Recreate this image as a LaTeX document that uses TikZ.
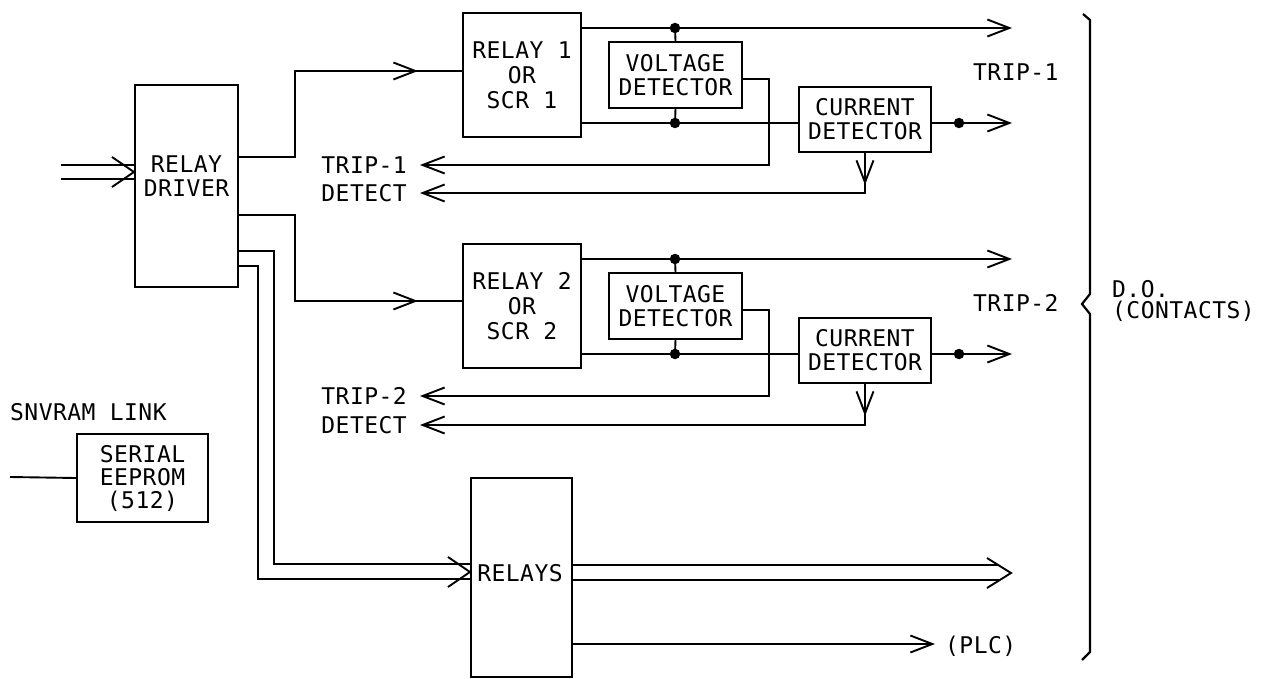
\documentclass[tikz,border=0pt]{standalone}
\usepackage{fontspec}
\newfontfamily\plotfont[LetterSpace=2]{DejaVu Sans Mono}
\usetikzlibrary{arrows.meta}
\begin{document}
\begin{tikzpicture}[x=1pt,y=-1pt,
  lbl/.style={inner sep=0pt, align=center, font=\plotfont\fontsize{23}{24}\selectfont},
  box/.style={draw, line width=2.1pt, inner sep=0pt, lbl},
  wire/.style={line width=1.9pt},
  arr/.style={wire, -{Straight Barb[length=22pt, width=17pt, line width=1.9pt]}},
  dot/.style={circle, fill, draw=none, inner sep=0pt, minimum size=10.5pt},
  rbox/.style={box, minimum width=118pt, minimum height=124pt, font=\plotfont\fontsize{23}{25}\selectfont},
  vbox/.style={box, minimum width=133pt, minimum height=66pt},
  cbox/.style={box, minimum width=132pt, minimum height=65pt}]
\useasboundingbox (0,0) rectangle (1263,679);

% ---------------- boxes
\node[box, minimum width=103pt, minimum height=202pt] (rd) at (186.5,186) {};
\node[lbl] (rdt) at (186.5,176.5) {RELAY\\DRIVER};

\node[rbox] (r1) at (522,75) {RELAY 1\\OR\\SCR 1};
\node[vbox] (vd1) at (675.5,75) {VOLTAGE\\DETECTOR};
\node[cbox] (cd1) at (865,119.5) {CURRENT\\DETECTOR};

\node[rbox] (r2) at (522,306) {RELAY 2\\OR\\SCR 2};
\node[vbox] (vd2) at (675.5,306) {VOLTAGE\\DETECTOR};
\node[cbox] (cd2) at (865,350.5) {CURRENT\\DETECTOR};

\node[box, minimum width=101pt, minimum height=199pt] (rel) at (521.5,577.5) {};
\node[lbl] (relt) at (520,573) {RELAYS};

\node[box, minimum width=131pt, minimum height=88pt, font=\plotfont\fontsize{23}{23}\selectfont] (ee) at (142.5,478) {SERIAL\\EEPROM\\(512)};

% ---------------- labels
\node[lbl, anchor=west] (snv) at (10,412) {SNVRAM LINK};
\node[lbl, anchor=east] (t1d) at (407,165) {TRIP-1};
\node[lbl, anchor=east] (d1d) at (407,193) {DETECT};
\node[lbl, anchor=east] (t2d) at (407,396) {TRIP-2};
\node[lbl, anchor=east] (d2d) at (407,425) {DETECT};
\node[lbl, anchor=west] (t1) at (973,72) {TRIP-1};
\node[lbl, anchor=west] (t2) at (973,303) {TRIP-2};
\node[lbl, anchor=west] (do) at (1112,289) {D.O.};
\node[lbl, anchor=west] (cts) at (1112,311) {(CONTACTS)};
\node[lbl, anchor=west] (plc) at (945,646) {(PLC)};

% ---------------- relay driver inputs
\coordinate (in1) at (61,165);
\coordinate (in2) at (61,179);
\draw[wire] (in1) -- (rd.west |- in1);
\draw[wire] (in2) -- (rd.west |- in2);
\draw[wire] (112,157) -- (rd.west |- 0,172) -- (112,187);

% ---------------- section 1
\draw[wire] (rd.east |- 0,157) -| (295,71) -- (r1.west |- 0,71);
\draw[arr] (295,71) -- (418,71);
\node[dot] (dt1) at (675,28) {};
\node[dot] (db1) at (675,123) {};
\node[dot] (dc1) at (959,123) {};
\draw[arr] (r1.east |- dt1) -- (1012,28);
\draw[wire] (dt1.center) -- (vd1.north);
\draw[wire] (r1.east |- db1) -- (cd1.west |- db1);
\draw[wire] (vd1.south) -- (db1.center);
\draw[arr] (cd1.east |- dc1) -- (1012,123);
\draw[arr] (vd1.east |- 0,79) -| (769,165) -- (420,165);
\draw[arr] (cd1.south) |- (420,193);
\draw[arr] (cd1.south) -- (865,185);

% ---------------- section 2
\draw[wire] (rd.east |- 0,215) -| (295,301) -- (r2.west |- 0,301);
\draw[arr] (295,301) -- (418,301);
\node[dot] (dt2) at (675,259) {};
\node[dot] (db2) at (675,354) {};
\node[dot] (dc2) at (959,354) {};
\draw[arr] (r2.east |- dt2) -- (1012,259);
\draw[wire] (dt2.center) -- (vd2.north);
\draw[wire] (r2.east |- db2) -- (cd2.west |- db2);
\draw[wire] (vd2.south) -- (db2.center);
\draw[arr] (cd2.east |- dc2) -- (1012,354);
\draw[arr] (vd2.east |- 0,310) -| (769,396) -- (420,396);
\draw[arr] (cd2.south) |- (420,425);
\draw[arr] (cd2.south) -- (865,416);

% ---------------- relays
\draw[wire] (rd.east |- 0,251) -| (274,564) -- (rel.west |- 0,564);
\draw[wire] (rd.east |- 0,266) -| (258,579) -- (rel.west |- 0,579);
\draw[wire] (448,557) -- (rel.west |- 0,572) -- (448,587);
\draw[wire] (rel.east |- 0,565) -- (999,565);
\draw[wire] (rel.east |- 0,580) -- (999,580);
\draw[wire] (987,558) -- (1011,573) -- (987,588);
\draw[arr] (rel.east |- 0,644) -- (935,644);

% ---------------- eeprom
\coordinate (eein) at (10,477);
\draw[wire] (eein) -- (ee.west);

% ---------------- brace
\draw[wire, line width=2.2pt] (1083,14) -- (1090,20) -- (1090,294) -- (1082,304) -- (1090,314) -- (1090,652) -- (1082,660);
\end{tikzpicture}
\end{document}
